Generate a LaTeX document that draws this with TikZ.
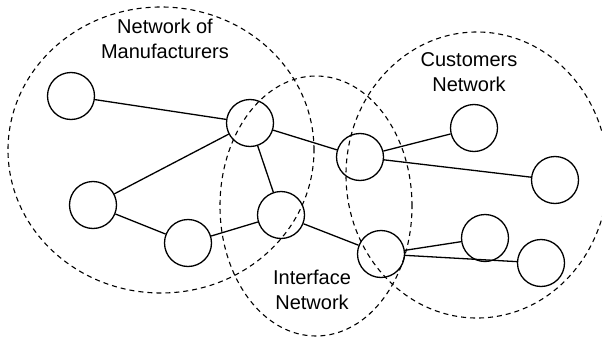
\documentclass[tikz,border=0pt]{standalone}
\usepackage{fontspec}
\setmainfont{Liberation Sans}
\begin{document}
\begin{tikzpicture}[x=1pt,y=-1pt,
  peer/.style={circle,draw,line width=1.3pt,minimum size=47pt,inner sep=0pt},
  link/.style={line width=1.3pt},
  group/.style={dashed,line width=1.1pt,dash pattern=on 5pt off 4pt},
  caption/.style={align=center,font=\fontsize{20}{25}\selectfont,inner sep=0pt}]
\useasboundingbox (0,0) rectangle (602,337);

% network boundaries
\draw[group] (161,150) ellipse [x radius=153pt, y radius=143pt];
\draw[group] (477,175) ellipse [x radius=131pt, y radius=143pt];
\draw[group] (316,206) ellipse [x radius=96pt, y radius=130pt];

% labels
\node[caption] (lman) at (165,39) {Network of\\Manufacturers};
\node[caption] (lcus) at (469,72) {Customers\\Network};
\node[caption] (lint) at (312,290) {Interface\\Network};

% nodes
\node[peer] (n1) at (71,96) {};
\node[peer] (n2) at (250,123) {};
\node[peer] (n3) at (93,205) {};
\node[peer] (n4) at (188,243) {};
\node[peer] (n5) at (281,215) {};
\node[peer] (n6) at (360,157) {};
\node[peer] (n7) at (474,128) {};
\node[peer] (n8) at (555,180) {};
\node[peer] (n9) at (381,254) {};
\node[peer] (n10) at (485,238) {};
\node[peer] (n11) at (541,263) {};

% links
\draw[link] (n1) -- (n2);
\draw[link] (n2) -- (n3);
\draw[link] (n2) -- (n5);
\draw[link] (n2) -- (n6);
\draw[link] (n3) -- (n4);
\draw[link] (n4) -- (n5);
\draw[link] (n5) -- (n9);
\draw[link] (n6) -- (n7);
\draw[link] (n6) -- (n8);
\draw[link] (n9) -- (n10);
\draw[link] (n9) -- (n11);
\end{tikzpicture}
\end{document}
